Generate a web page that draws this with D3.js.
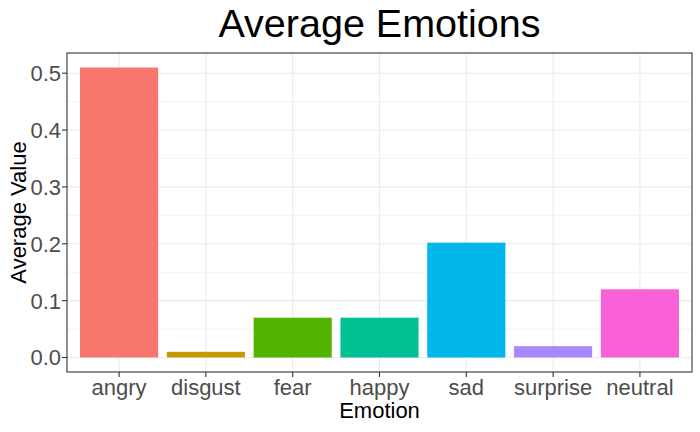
<!DOCTYPE html>
<html>
<head>
<meta charset="utf-8">
<script src="https://cdn.jsdelivr.net/npm/d3@7"></script>
<style>
  body { margin: 0; background: #fff; }
  text { font-family: "Liberation Sans", Arial, sans-serif; }
</style>
</head>
<body>
<div id="chart"></div>
<script>
var emotions = ["angry", "disgust", "fear", "happy", "sad", "surprise", "neutral"]
  , averages = [0.51, 0.01, 0.07, 0.07, 0.202, 0.02, 0.12]
  , colours = ["#F8766D", "#C49A00", "#53B400", "#00C094", "#00B6EB", "#A58AFF", "#FB61D7"]
  , yTicks = [0.0, 0.1, 0.2, 0.3, 0.4, 0.5]
  , yMinor = [0.05, 0.15, 0.25, 0.35, 0.45]

var width = 700
  , height = 432
  , panel = { left: 67, right: 692, top: 53, bottom: 372 }

var svg = d3.select("#chart").append("svg")
  .attr("width", width)
  .attr("height", height)

// ggplot style expansion: 5% on y, 0.6 units on discrete x
var yMax = d3.max(averages)
  , pad = yMax * 0.05
var y = d3.scaleLinear()
  .domain([-pad, yMax + pad])
  .range([panel.bottom, panel.top])

// discrete x: categories 1..n, domain expanded 0.6 each side
var x = d3.scaleLinear()
  .domain([0.4, emotions.length + 0.6])
  .range([panel.left, panel.right])
function cx(d) { return x(emotions.indexOf(d) + 1) }
var barW = x(1.45) - x(0.55)

// grid
var grid = svg.append("g")
grid.selectAll(".minor").data(yMinor).enter().append("line")
  .attr("x1", panel.left).attr("x2", panel.right)
  .attr("y1", function (d) { return y(d) }).attr("y2", function (d) { return y(d) })
  .attr("stroke", "#EBEBEB").attr("stroke-width", 0.6)
grid.selectAll(".major").data(yTicks).enter().append("line")
  .attr("x1", panel.left).attr("x2", panel.right)
  .attr("y1", function (d) { return y(d) }).attr("y2", function (d) { return y(d) })
  .attr("stroke", "#EBEBEB").attr("stroke-width", 1.1)
grid.selectAll(".vmajor").data(emotions).enter().append("line")
  .attr("x1", cx).attr("x2", cx)
  .attr("y1", panel.top).attr("y2", panel.bottom)
  .attr("stroke", "#EBEBEB").attr("stroke-width", 1.1)

// bars
svg.selectAll("rect.bar").data(emotions).enter().append("rect")
  .attr("class", "bar")
  .attr("x", function (d) { return cx(d) - barW / 2 })
  .attr("width", barW)
  .attr("y", function (d, i) { return y(averages[i]) })
  .attr("height", function (d, i) { return y(0) - y(averages[i]) })
  .attr("fill", function (d, i) { return colours[i] })

// panel border
svg.append("rect")
  .attr("x", panel.left).attr("y", panel.top)
  .attr("width", panel.right - panel.left).attr("height", panel.bottom - panel.top)
  .attr("fill", "none").attr("stroke", "#333333").attr("stroke-width", 1.1)

// y axis
var yAxis = svg.append("g")
yAxis.selectAll("line").data(yTicks).enter().append("line")
  .attr("x1", panel.left - 5).attr("x2", panel.left)
  .attr("y1", function (d) { return y(d) }).attr("y2", function (d) { return y(d) })
  .attr("stroke", "#333333").attr("stroke-width", 1.1)
yAxis.selectAll("text").data(yTicks).enter().append("text")
  .attr("x", panel.left - 6)
  .attr("y", function (d) { return y(d) })
  .attr("dy", "0.36em")
  .attr("text-anchor", "end")
  .attr("font-size", 22)
  .attr("fill", "#4D4D4D")
  .text(function (d) { return d3.format(".1f")(d) })

// x axis
var xAxis = svg.append("g")
xAxis.selectAll("line").data(emotions).enter().append("line")
  .attr("x1", cx).attr("x2", cx)
  .attr("y1", panel.bottom).attr("y2", panel.bottom + 5)
  .attr("stroke", "#333333").attr("stroke-width", 1.1)
xAxis.selectAll("text").data(emotions).enter().append("text")
  .attr("x", cx)
  .attr("y", 395)
  .attr("text-anchor", "middle")
  .attr("font-size", 22)
  .attr("fill", "#4D4D4D")
  .text(function (d) { return d })

// titles
svg.append("text")
  .attr("x", (panel.left + panel.right) / 2)
  .attr("y", 418)
  .attr("text-anchor", "middle")
  .attr("font-size", 22)
  .attr("fill", "#000")
  .text("Emotion")

svg.append("text")
  .attr("transform", "translate(26," + ((panel.top + panel.bottom) / 2) + ") rotate(-90)")
  .attr("text-anchor", "middle")
  .attr("font-size", 22)
  .attr("fill", "#000")
  .text("Average Value")

svg.append("text")
  .attr("x", (panel.left + panel.right) / 2)
  .attr("y", 37)
  .attr("text-anchor", "middle")
  .attr("font-size", 39.5)
  .attr("fill", "#000")
  .text("Average Emotions")
</script>
</body>
</html>
